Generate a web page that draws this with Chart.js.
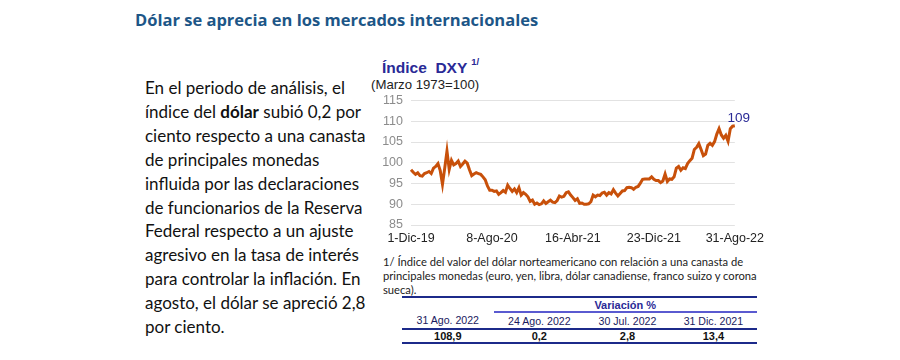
<!DOCTYPE html>
<html lang="es">
<head>
<meta charset="utf-8">
<script src="https://cdn.jsdelivr.net/npm/chart.js@4.4.1/dist/chart.umd.min.js"></script>
<style>
  body { margin: 0; width: 900px; height: 360px; background: #fff; position: relative; overflow: hidden; }
  .titulo { position: absolute; left: 135px; top: 8px; font-family: "Open Sans", sans-serif; font-weight: bold; font-size: 16.5px; color: #1d5687; white-space: nowrap; }
  .texto { position: absolute; left: 145px; top: 76px; font-family: Lato, sans-serif; font-size: 17px; line-height: 23.9px; color: #111; white-space: nowrap; }
  .titulo-graf { position: absolute; left: 382px; top: 58px; font-family: "Liberation Sans", Arial, sans-serif; font-weight: bold; font-size: 15.5px; color: #2a2a96; white-space: nowrap; }
  .titulo-graf sup { font-size: 9.5px; position: relative; top: -2px; margin-left: 4px; }
  .subtitulo { position: absolute; left: 371px; top: 77px; font-family: "Liberation Sans", Arial, sans-serif; font-size: 13.2px; color: #222; }
  #contenedor { position: absolute; left: 370px; top: 85px; width: 400px; height: 162px; }
  .nota { position: absolute; left: 383px; top: 255px; font-family: Lato, sans-serif; font-size: 11.2px; line-height: 14px; color: #222; white-space: nowrap; }
  table { position: absolute; left: 402px; top: 296px; width: 355px; border-collapse: collapse; font-family: "Liberation Sans", Arial, sans-serif; font-size: 10.6px; line-height: 12px; }
  td { text-align: center; padding: 0; }
  .arriba td { border-top: 2px solid #1c2a8a; height: 13px; }
  .var { font-weight: bold; font-size: 11px; color: #2a2a96; border-bottom: 2px solid #5a5ad0; }
  .enc td { color: #1a1a5e; border-bottom: 2px solid #1c2a8a; height: 15px; }
  .val td { font-weight: bold; color: #111; border-bottom: 2px solid #1c2a8a; height: 11px; font-size: 11px; }
</style>
</head>
<body>
<div class="titulo">Dólar se aprecia en los mercados internacionales</div>
<div class="texto">En el periodo de análisis, el<br>índice del <b>dólar</b> subió 0,2 por<br>ciento respecto a una canasta<br>de principales monedas<br>influida por las declaraciones<br>de funcionarios de la Reserva<br>Federal respecto a un ajuste<br>agresivo en la tasa de interés<br>para controlar la inflación. En<br>agosto, el dólar se apreció 2,8<br>por ciento.</div>
<div class="titulo-graf">Índice&nbsp; DXY<sup>1/</sup></div>
<div class="subtitulo">(Marzo 1973=100)</div>
<div id="contenedor"><canvas id="graficoDxy"></canvas></div>
<div class="nota">1/ Índice del valor del dólar norteamericano con relación a una canasta de<br>principales monedas (euro, yen, libra, dólar canadiense, franco suizo y corona<br>sueca).</div>
<table id="tabla"></table>

<script>
// etiquetas del eje x (cada 36 observaciones semanales)
const etiquetasEje = ['1-Dic-19', '8-Ago-20', '16-Abr-21', '23-Dic-21', '31-Ago-22'];
const PASO_ETIQUETA = 36;

// indice DXY, observaciones aproximadamente semanales de dic-19 a ago-22
const valoresDxy = [
    98.3, 97.7, 97.2, 97.6, 96.9, 96.8, 97.4, 97.6, 97.9, 97.4,
    98.7, 99.1, 99.8, 98.1, 94.8, 98.7, 102.8, 98.4, 100.6, 99.5,
    99.8, 100.4, 99.1, 99.7, 100.4, 99.9, 98.3, 96.9, 97.3, 97.6,
    97.4, 97.2, 96.6, 95.9, 94.4, 93.4, 93.4, 93.1, 93.2, 92.4,
    92.8, 93.3, 92.9, 94.6, 93.8, 93.1, 93.7, 92.8, 94.0, 92.2,
    92.8, 92.4, 91.8, 90.7, 91.0, 90.0, 90.3, 89.9, 90.1, 90.8,
    90.2, 90.6, 91.0, 90.5, 90.4, 90.9, 92.0, 91.7, 91.9, 92.8,
    93.0, 92.2, 91.6, 90.9, 91.3, 90.2, 90.3, 90.0, 90.0, 90.1,
    90.6, 92.2, 91.8, 92.2, 92.1, 92.7, 92.9, 92.2, 92.8, 92.5,
    93.5, 92.7, 92.0, 92.6, 93.2, 93.3, 94.0, 94.1, 94.0, 93.6,
    94.1, 94.3, 95.1, 96.0, 96.1, 96.1, 96.1, 96.6, 96.0, 95.7,
    95.7, 95.2, 95.6, 97.3, 95.5, 96.1, 96.0, 96.6, 98.7, 99.1,
    98.2, 98.8, 98.6, 99.8, 100.5, 101.1, 103.2, 103.7, 104.6, 103.2,
    101.7, 102.1, 104.2, 104.7, 104.2, 105.1, 106.9, 108.2, 106.7, 105.9,
    106.6, 105.2, 108.2, 108.8, 108.9
];

const ejeYMin = 85;
const ejeYMax = 115;
const ejeYPaso = 5;
const etiquetaFinal = '109';

// tabla de variaciones
const encabezadosTabla = ['31 Ago. 2022', '24 Ago. 2022', '30 Jul. 2022', '31 Dic. 2021'];
const valoresTabla = ['108,9', '0,2', '2,8', '13,4'];

function montarTabla() {
    const tabla = document.getElementById('tabla');
    tabla.innerHTML = `
        <tr class="arriba"><td></td><td colspan="3" class="var">Variación %</td></tr>
        <tr class="enc">${encabezadosTabla.map(t => `<td>${t}</td>`).join('')}</tr>
        <tr class="val">${valoresTabla.map(t => `<td>${t}</td>`).join('')}</tr>
    `;
}

// escribe el ultimo valor encima del ultimo punto
const pluginUltimoValor = {
    id: 'ultimoValor',
    afterDatasetsDraw(chart) {
        const puntos = chart.getDatasetMeta(0).data;
        const ultimo = puntos[puntos.length - 1];
        const ctx = chart.ctx;
        ctx.save();
        ctx.font = '13.5px "Liberation Sans", Arial, sans-serif';
        ctx.fillStyle = '#2a2a96';
        ctx.textAlign = 'center';
        ctx.textBaseline = 'middle';
        ctx.fillText(etiquetaFinal, ultimo.x + 4, ultimo.y - 8);
        ctx.restore();
    }
};

function desenharGrafico() {
    const fuenteEje = { family: '"Liberation Sans", Arial, sans-serif', size: 12.5 };

    new Chart(document.getElementById('graficoDxy'), {
        type: 'line',
        data: {
            labels: valoresDxy.map((v, i) => i),
            datasets: [{
                data: valoresDxy,
                borderColor: '#c8500a',
                borderWidth: 3,
                pointRadius: 0,
                tension: 0,
                fill: false
            }]
        },
        options: {
            responsive: true,
            maintainAspectRatio: false,
            animation: false,
            layout: { padding: { top: 9, right: 32, left: 0, bottom: 0 } },
            scales: {
                x: {
                    offset: false,
                    grid: { display: false, drawTicks: false },
                    border: { display: false },
                    ticks: {
                        autoSkip: false,
                        maxRotation: 0,
                        padding: 6,
                        color: '#222',
                        font: fuenteEje,
                        callback: (valor, indice) => indice % PASO_ETIQUETA === 0 ? etiquetasEje[indice / PASO_ETIQUETA] : null
                    },
                    afterFit: (eje) => { eje.height = 22; }
                },
                y: {
                    min: ejeYMin,
                    max: ejeYMax,
                    grid: { color: '#e2e2e2', drawTicks: false, lineWidth: 1 },
                    border: { display: false },
                    ticks: {
                        stepSize: ejeYPaso,
                        padding: 8,
                        color: '#8c8c8c',
                        font: fuenteEje
                    },
                    afterFit: (eje) => { eje.width = 41; }
                }
            },
            plugins: {
                legend: { display: false },
                tooltip: { enabled: false }
            }
        },
        plugins: [pluginUltimoValor]
    });
}

montarTabla();
desenharGrafico();
</script>
</body>
</html>
